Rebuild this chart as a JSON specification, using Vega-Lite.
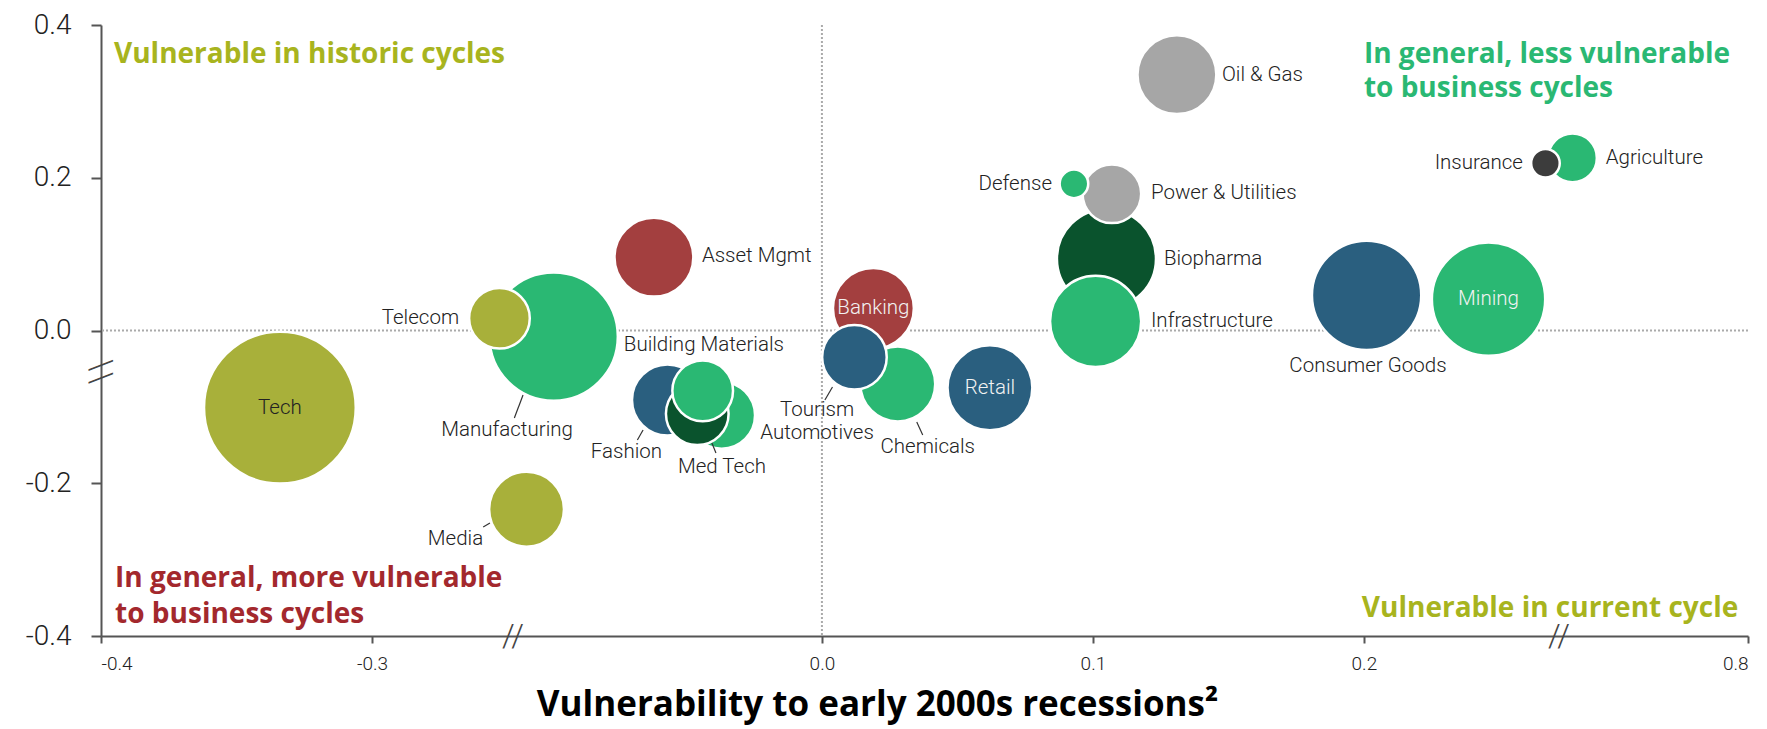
{
  "$schema": "https://vega.github.io/schema/vega-lite/v6.json",
  "width": 1647,
  "height": 611,
  "autosize": {"type": "none"},
  "padding": {"left": 101, "top": 25, "right": 19, "bottom": 93},
  "background": "white",
  "config": {
    "view": {"stroke": null},
    "font": "Roboto",
    "axis": {
      "grid": false,
      "domainColor": "#555555",
      "domainWidth": 2,
      "tickColor": "#555555",
      "tickWidth": 2,
      "labelColor": "#222222",
      "labelFont": "Roboto",
      "labelFontWeight": 300
    },
    "axisX": {"tickSize": 7, "labelFontSize": 19, "labelPadding": 11},
    "axisY": {"tickSize": 10, "labelFontSize": 28, "labelPadding": 20}
  },
  "datasets": {
    "sectors": [
      {"name": "Manufacturing", "group": "Industrial", "x": -0.099, "y": -0.008, "share": 40.3, "lx": -0.0919, "ly": -0.1303},
      {"name": "Telecom", "group": "TMT", "x": -0.253, "y": 0.016, "share": 9.0, "lx": -0.2679, "ly": 0.0164},
      {"name": "Tech", "group": "TMT", "x": -0.334, "y": -0.101, "share": 56.3, "lx": -0.334, "ly": -0.101},
      {"name": "Media", "group": "TMT", "x": -0.109, "y": -0.234, "share": 13.7, "lx": -0.259, "ly": -0.273},
      {"name": "Asset Mgmt", "group": "Financial", "x": -0.062, "y": 0.096, "share": 15.2, "lx": -0.0443, "ly": 0.0975},
      {"name": "Fashion", "group": "Consumer", "x": -0.057, "y": -0.091, "share": 12.3, "lx": -0.059, "ly": -0.159},
      {"name": "Automotives", "group": "Industrial", "x": -0.037, "y": -0.111, "share": 10.9, "lx": -0.0018, "ly": -0.1342},
      {"name": "Med Tech", "group": "Health", "x": -0.046, "y": -0.109, "share": 9.6, "lx": -0.0531, "ly": -0.1787},
      {"name": "Building Materials", "group": "Industrial", "x": -0.044, "y": -0.079, "share": 9.0, "lx": -0.0731, "ly": -0.019},
      {"name": "Banking", "group": "Financial", "x": 0.019, "y": 0.029, "share": 16.0, "lx": 0.019, "ly": 0.029},
      {"name": "Chemicals", "group": "Industrial", "x": 0.028, "y": -0.070, "share": 13.7, "lx": 0.0216, "ly": -0.1525},
      {"name": "Tourism", "group": "Consumer", "x": 0.012, "y": -0.035, "share": 10.2, "lx": -0.0018, "ly": -0.1041},
      {"name": "Retail", "group": "Consumer", "x": 0.062, "y": -0.075, "share": 17.6, "lx": 0.062, "ly": -0.075},
      {"name": "Biopharma", "group": "Health", "x": 0.105, "y": 0.094, "share": 24.0, "lx": 0.1262, "ly": 0.0936},
      {"name": "Infrastructure", "group": "Industrial", "x": 0.101, "y": 0.012, "share": 20.3, "lx": 0.1214, "ly": 0.0124},
      {"name": "Power & Utilities", "group": "Energy", "x": 0.107, "y": 0.179, "share": 8.4, "lx": 0.1214, "ly": 0.180},
      {"name": "Defense", "group": "Industrial", "x": 0.093, "y": 0.192, "share": 2.0, "lx": 0.0849, "ly": 0.1918},
      {"name": "Oil & Gas", "group": "Energy", "x": 0.131, "y": 0.335, "share": 15.2, "lx": 0.1476, "ly": 0.3345},
      {"name": "Consumer Goods", "group": "Consumer", "x": 0.201, "y": 0.046, "share": 29.2, "lx": 0.2015, "ly": -0.0465},
      {"name": "Mining", "group": "Industrial", "x": 0.246, "y": 0.041, "share": 31.4, "lx": 0.246, "ly": 0.041},
      {"name": "Agriculture", "group": "Industrial", "x": 0.735, "y": 0.226, "share": 5.8, "lx": 0.7473, "ly": 0.2259},
      {"name": "Insurance", "group": "Insurance", "x": 0.267, "y": 0.219, "share": 2.0, "lx": 0.2587, "ly": 0.2193}
    ],
    "leaders": [
      {"name": "Manufacturing", "x": -0.1103, "y": -0.0844, "x2": -0.1135, "y2": -0.1146},
      {"name": "Media", "x": -0.2565, "y": -0.2521, "x2": -0.259, "y2": -0.2573},
      {"name": "Fashion", "x": -0.066, "y": -0.1303, "x2": -0.0681, "y2": -0.1434},
      {"name": "Med Tech", "x": -0.0406, "y": -0.1473, "x2": -0.0391, "y2": -0.1604},
      {"name": "Tourism", "x": 0.0039, "y": -0.074, "x2": 0.0011, "y2": -0.091},
      {"name": "Chemicals", "x": 0.035, "y": -0.1198, "x2": 0.0372, "y2": -0.1368}
    ]
  },
  "layer": [
    {
      "data": {"values": [{"x": 0}]},
      "mark": {"type": "rule", "color": "#aaaaaa", "strokeWidth": 2, "strokeDash": [2, 2]},
      "encoding": {
        "x": {
          "field": "x", "type": "quantitative",
          "scale": {"domain": [-0.4, -0.248, -0.114, 0.272, 0.73, 0.8], "range": [0, 412, 412, 1458, 1458, 1647], "nice": false, "zero": false},
          "axis": {
            "values": [-0.4, -0.3, 0, 0.1, 0.2, 0.8],
            "labelExpr": "replace(format(datum.value, '.1f'), '−', '-')",
            "title": "Vulnerability to early 2000s recessions²",
            "titleFont": "Open Sans",
            "titleFontSize": 35,
            "titleFontWeight": "bold",
            "titleColor": "#000000",
            "titleX": 776,
            "titleY": 79,
            "titleAlign": "center",
            "titleBaseline": "alphabetic"
          }
        }
      }
    },
    {
      "data": {"values": [{"y": 0}]},
      "mark": {"type": "rule", "color": "#aaaaaa", "strokeWidth": 2, "strokeDash": [2, 2]},
      "encoding": {
        "y": {
          "field": "y", "type": "quantitative",
          "scale": {"domain": [-0.4, 0.4], "nice": false, "zero": false},
          "axis": {
            "values": [-0.4, -0.2, 0, 0.2, 0.4],
            "labelExpr": "replace(format(datum.value, '.1f'), '−', '-')",
            "title": null
          }
        }
      }
    },
    {
      "data": {"name": "sectors"},
      "mark": {"type": "circle", "opacity": 1, "stroke": "white", "strokeWidth": 2.5},
      "encoding": {
        "x": {"field": "x", "type": "quantitative", "title": "Vulnerability to early 2000s recessions²"},
        "y": {"field": "y", "type": "quantitative", "title": null},
        "size": {"field": "share", "type": "quantitative", "scale": {"type": "linear", "domain": [0, 56.25], "range": [0, 23000], "zero": true}, "legend": null},
        "color": {
          "field": "group", "type": "nominal", "legend": null,
          "scale": {
            "domain": ["TMT", "Industrial", "Health", "Consumer", "Financial", "Energy", "Insurance"],
            "range": ["#a8b03a", "#2ab873", "#0a532d", "#2a5f7f", "#a33f3f", "#a6a6a6", "#3c3c3c"]
          }
        }
      }
    },
    {
      "data": {"name": "leaders"},
      "mark": {"type": "rule", "color": "#333333", "strokeWidth": 1.2},
      "encoding": {
        "x": {"field": "x", "type": "quantitative", "title": "Vulnerability to early 2000s recessions²"},
        "y": {"field": "y", "type": "quantitative", "title": null},
        "x2": {"field": "x2"},
        "y2": {"field": "y2"}
      }
    },
    {
      "data": {"name": "sectors"},
      "transform": [{"filter": {"field": "name", "oneOf": ["Asset Mgmt", "Oil & Gas", "Power & Utilities", "Biopharma", "Infrastructure", "Agriculture", "Building Materials", "Med Tech", "Chemicals"]}}],
      "mark": {"type": "text", "align": "left", "baseline": "middle", "fontSize": 20.5, "fontWeight": 300, "color": "#222222"},
      "encoding": {
        "x": {"field": "lx", "type": "quantitative", "title": "Vulnerability to early 2000s recessions²"},
        "y": {"field": "ly", "type": "quantitative", "title": null},
        "text": {"field": "name"}
      }
    },
    {
      "data": {"name": "sectors"},
      "transform": [{"filter": {"field": "name", "oneOf": ["Telecom", "Defense", "Insurance", "Media", "Fashion", "Manufacturing"]}}],
      "mark": {"type": "text", "align": "right", "baseline": "middle", "fontSize": 20.5, "fontWeight": 300, "color": "#222222"},
      "encoding": {
        "x": {"field": "lx", "type": "quantitative", "title": "Vulnerability to early 2000s recessions²"},
        "y": {"field": "ly", "type": "quantitative", "title": null},
        "text": {"field": "name"}
      }
    },
    {
      "data": {"name": "sectors"},
      "transform": [{"filter": {"field": "name", "oneOf": ["Tech", "Consumer Goods", "Tourism", "Automotives"]}}],
      "mark": {"type": "text", "align": "center", "baseline": "middle", "fontSize": 20.5, "fontWeight": 300, "color": "#222222"},
      "encoding": {
        "x": {"field": "lx", "type": "quantitative", "title": "Vulnerability to early 2000s recessions²"},
        "y": {"field": "ly", "type": "quantitative", "title": null},
        "text": {"field": "name"}
      }
    },
    {
      "data": {"name": "sectors"},
      "transform": [{"filter": {"field": "name", "oneOf": ["Banking", "Retail", "Mining"]}}],
      "mark": {"type": "text", "align": "center", "baseline": "middle", "fontSize": 20.5, "fontWeight": 300, "color": "#f2f2f2"},
      "encoding": {
        "x": {"field": "lx", "type": "quantitative", "title": "Vulnerability to early 2000s recessions²"},
        "y": {"field": "ly", "type": "quantitative", "title": null},
        "text": {"field": "name"}
      }
    },
    {
      "data": {"values": [{"x": -0.248, "y": -0.4}, {"x": 0.272, "y": -0.4}]},
      "mark": {"type": "text", "text": "//", "align": "center", "baseline": "middle", "fontSize": 32, "fontWeight": 300, "color": "#444444"},
      "encoding": {
        "x": {"field": "x", "type": "quantitative", "title": "Vulnerability to early 2000s recessions²"},
        "y": {"field": "y", "type": "quantitative", "title": null}
      }
    },
    {
      "data": {"values": [{"x": -0.4, "y": -0.054}]},
      "mark": {"type": "text", "text": "\\\\", "angle": 90, "align": "center", "baseline": "middle", "fontSize": 32, "fontWeight": 300, "color": "#444444"},
      "encoding": {
        "x": {"field": "x", "type": "quantitative", "title": "Vulnerability to early 2000s recessions²"},
        "y": {"field": "y", "type": "quantitative", "title": null}
      }
    },
    {
      "data": {"values": [{"x": -0.3952, "y": 0.3502, "t": "Vulnerable in historic cycles"}]},
      "mark": {"type": "text", "font": "Open Sans", "align": "left", "baseline": "alphabetic", "fontSize": 28, "fontWeight": "bold", "color": "#a8b41e"},
      "encoding": {
        "x": {"field": "x", "type": "quantitative", "title": "Vulnerability to early 2000s recessions²"},
        "y": {"field": "y", "type": "quantitative", "title": null},
        "text": {"field": "t"}
      }
    },
    {
      "data": {"values": [{"x": 0.2, "y": 0.3502, "t": "In general, less vulnerable\nto business cycles"}]},
      "mark": {"type": "text", "font": "Open Sans", "align": "left", "baseline": "alphabetic", "lineBreak": "\n", "lineHeight": 34, "fontSize": 28, "fontWeight": "bold", "color": "#2ab873"},
      "encoding": {
        "x": {"field": "x", "type": "quantitative", "title": "Vulnerability to early 2000s recessions²"},
        "y": {"field": "y", "type": "quantitative", "title": null},
        "text": {"field": "t"}
      }
    },
    {
      "data": {"values": [{"x": -0.3948, "y": -0.3358, "t": "In general, more vulnerable\nto business cycles"}]},
      "mark": {"type": "text", "font": "Open Sans", "align": "left", "baseline": "alphabetic", "lineBreak": "\n", "lineHeight": 36, "fontSize": 28, "fontWeight": "bold", "color": "#a3282d"},
      "encoding": {
        "x": {"field": "x", "type": "quantitative", "title": "Vulnerability to early 2000s recessions²"},
        "y": {"field": "y", "type": "quantitative", "title": null},
        "text": {"field": "t"}
      }
    },
    {
      "data": {"values": [{"x": 0.7964, "y": -0.3751, "t": "Vulnerable in current cycle"}]},
      "mark": {"type": "text", "font": "Open Sans", "align": "right", "baseline": "alphabetic", "fontSize": 28, "fontWeight": "bold", "color": "#a8b41e"},
      "encoding": {
        "x": {"field": "x", "type": "quantitative", "title": "Vulnerability to early 2000s recessions²"},
        "y": {"field": "y", "type": "quantitative", "title": null},
        "text": {"field": "t"}
      }
    }
  ]
}
